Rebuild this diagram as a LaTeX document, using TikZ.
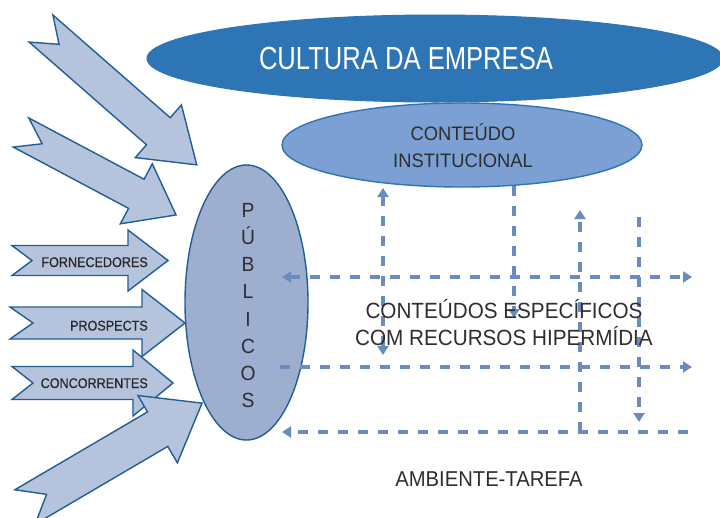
\documentclass[tikz,border=0pt]{standalone}
\usepackage{fontspec}
\setmainfont{Liberation Sans}[FakeStretch=0.94]
\newfontfamily\culturafont{Liberation Sans}[FakeStretch=0.8]
\newfontfamily\labelfont{Liberation Sans}[FakeStretch=0.9,FakeBold=0.6]
\usetikzlibrary{arrows.meta,shapes.geometric}
\definecolor{cultblue}{HTML}{2E75B6}
\definecolor{contblue}{HTML}{7C9FD4}
\definecolor{pubfill}{HTML}{9DAECF}
\definecolor{arrfill}{HTML}{B6C3DD}
\definecolor{edgeblue}{HTML}{215E95}
\definecolor{dashblue}{HTML}{6A8BC0}
\definecolor{txtgray}{HTML}{2E2E2E}
\tikzset{
  barrow/.style={draw=edgeblue, fill=arrfill, line width=1.4pt, line join=miter},
  dline/.style={draw=dashblue, line width=3.5pt, dash pattern=on 10pt off 10pt},
  dtip/.style={-{Triangle[length=9pt,width=11pt]}},
  dtips/.style={{Triangle[length=9pt,width=11pt]}-{Triangle[length=9pt,width=11pt]}},
  lbl/.style={inner sep=0pt, text=txtgray},
  arrlbl/.style={inner sep=0pt, text=txtgray!90!black, anchor=base east, font=\labelfont\fontsize{14}{16}\selectfont},
}
\newcommand\blockarr[8]{%
  \begin{scope}[shift={#2},rotate=#3]
    \draw[barrow] (0,#5) -- ({#4-#7},#5) -- ({#4-#7},#6) -- (#4,0) -- ({#4-#7},-#6) -- ({#4-#7},-#5) -- (0,-#5) -- (#8,0) -- cycle;
    \coordinate (#1) at (#4,0);
  \end{scope}}
\begin{document}
\begin{tikzpicture}[x=1pt,y=-1pt]
\useasboundingbox (0,0) rectangle (720,517);
\fill[white] (0,0) rectangle (720,517);

% block arrows
\blockarr{arrA}{(41,28.5)}{-41.2}{207}{18}{35}{51}{24}
\blockarr{arrB}{(21,132.5)}{-28.0}{175.6}{16.5}{34}{45}{24}
\blockarr{arrF}{(12,260.5)}{0}{156}{15}{30.5}{40}{20}
\blockarr{arrP}{(10,323)}{0}{175}{16}{33.5}{43}{23}
\blockarr{arrC}{(12,383)}{0}{161}{16.5}{33}{40}{21}
\blockarr{arrD}{(25,507)}{30.4}{205.3}{20}{39}{51.5}{25}

\node[arrlbl] (fornec) at (148,267) {FORNECEDORES};
\node[arrlbl] (prosp) at (148,330.5) {PROSPECTS};
\node[arrlbl] (concor) at (148,388) {CONCORRENTES};

% ellipses
\node[draw=edgeblue, fill=pubfill, line width=1.4pt, ellipse, minimum width=123pt, minimum height=275pt, inner sep=0pt] (publicos) at (246.5,302.5) {};
\node[draw=cultblue, fill=cultblue, line width=1pt, ellipse, minimum width=576pt, minimum height=87pt, inner sep=0pt] (cultura) at (435,58.5) {};
\node[draw=cultblue, fill=contblue, line width=1.4pt, ellipse, minimum width=360pt, minimum height=84pt, inner sep=0pt] (instit) at (462,145) {};

% dashed connectors
\coordinate (h1l) at (282,277); \coordinate (h1r) at (692,277);
\coordinate (h2l) at (280,367); \coordinate (h2r) at (692,367);
\coordinate (h3l) at (282,432); \coordinate (h3r) at (688,432);
\coordinate (vAt) at (383,188); \coordinate (vAb) at (383,355);
\coordinate (vBt) at (514,186); \coordinate (vBb) at (514,318);
\coordinate (vCt) at (580,210); \coordinate (vCb) at (580,432);
\coordinate (vDt) at (639,217); \coordinate (vDb) at (639,422);
\draw[dline, dtips] (h1l) -- (h1r);
\draw[dline, dtip] (h2l) -- (h2r);
\draw[dline, dtip] (h3r) -- (h3l);
\draw[dline, dtips] (vAt) -- (vAb);
\draw[dline, dtip] (vBt) -- (vBb);
\draw[dline, dtip] (vCb) -- (vCt);
\draw[dline, dtip] (vDt) -- (vDb);

% texts
\node[inner sep=0pt, text=white, anchor=base, font=\culturafont\fontsize{32}{36}\selectfont] (culturatxt) at (406,69) {CULTURA DA EMPRESA};
\node[lbl, anchor=base, font=\fontsize{19.5}{22}\selectfont] (inst1) at (463,140) {CONTEÚDO};
\node[lbl, anchor=base, font=\fontsize{19.5}{22}\selectfont] (inst2) at (463,167) {INSTITUCIONAL};
\node[lbl, anchor=base, font=\fontsize{22}{26}\selectfont] (esp1) at (504,318) {CONTEÚDOS ESPECÍFICOS};
\node[lbl, anchor=base, font=\fontsize{22}{26}\selectfont] (esp2) at (504,345) {COM RECURSOS HIPERMÍDIA};
\node[lbl, anchor=base, font=\fontsize{21.5}{24}\selectfont] (ambiente) at (489,486.5) {AMBIENTE-TAREFA};
\foreach \ch [count=\i] in {P,Ú,B,L,I,C,O,S}
  \node[lbl, anchor=base, font=\fontsize{20.5}{24}\selectfont] (pub\i) at (248,{217.3+(\i-1)*27.2}) {\ch};
\end{tikzpicture}
\end{document}
